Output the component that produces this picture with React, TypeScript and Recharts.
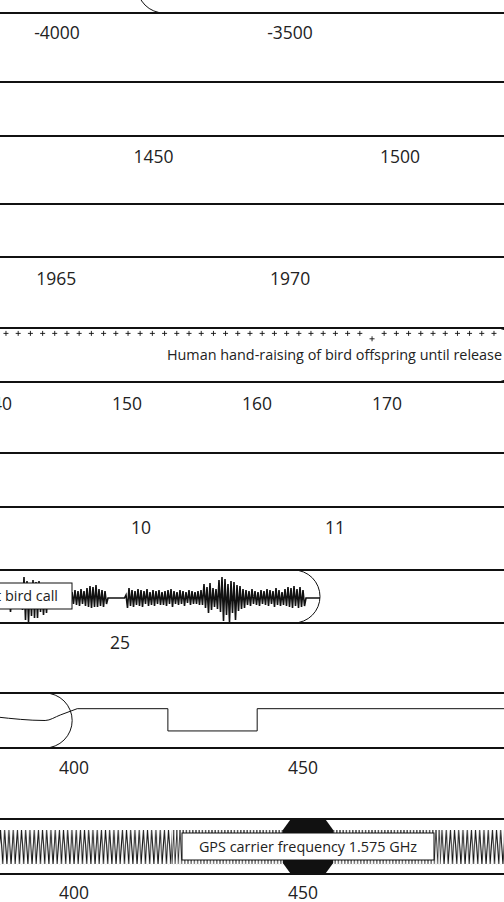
import React from 'react';
import {
  ComposedChart,
  XAxis,
  YAxis,
  Line,
  Scatter,
  ReferenceLine,
  ReferenceArea,
  ReferenceDot,
} from 'recharts';

const FONT = '"Open Sans", "Noto Sans", sans-serif';
const INK = '#111';
const TEXT = '#222';
const LABEL_SIZE = 14.4;

// ---------- Band 1: deep time (years) ----------
const deepTicks = [-4000, -3500];
const deepSpan = [-3828, -2500];

// ---------- Band 2: late middle ages ----------
const medievalTicks = [1450, 1500];

// ---------- Band 3: 20th century ----------
const modernTicks = [1965, 1970];

// ---------- Band 4: days ----------
const dayTicks = [140, 150, 160, 170];
const handT = [
  140.69, 141.63, 142.57, 143.51, 144.44, 145.38, 146.32, 147.26, 148.2, 149.14,
  150.08, 151.01, 151.95, 152.89, 153.83, 154.77, 155.71, 156.65, 157.58, 158.52,
  159.46, 160.4, 161.34, 162.28, 163.22, 164.15, 165.09, 166.03, 166.97, 167.91,
  168.85, 169.78, 170.72, 171.66, 172.6, 173.54, 174.48, 175.42, 176.35, 177.29,
  178.23,
];
const handV = [
  0.9, 0.9, 0.9, 0.9, 0.9, 0.9, 0.9, 0.9, 0.9, 0.9,
  0.9, 0.9, 0.9, 0.9, 0.9, 0.9, 0.9, 0.9, 0.9, 0.9,
  0.9, 0.9, 0.9, 0.9, 0.9, 0.9, 0.9, 0.9, 0.9, 0.9,
  0.8, 0.9, 0.9, 0.9, 0.9, 0.9, 0.9, 0.9, 0.9, 0.9,
  0.9,
];
const handSpan = [120, 180.4];
const handLabel = 'Human hand-raising of bird offspring until release';
const handLabelAt = [178.85, 0.407];

// ---------- Band 5: hours ----------
const hourTicks = [10, 11];

// ---------- Band 6: seconds (bird call) ----------
const callTicks = [25];
const callT0 = 24.7;
const callDt = 0.0075;
const callHi = [
  6, 7, 9, 10, 8, 6, 9, 12, 21, 17, 13, 18, 16, 17, 9, 8, 7, 6, 7, 6, 8, 7, 6, 8,
  6, 8, 7, 9, 7, 10, 12, 11, 13, 9, 8, 7,
  0, 0, 0, 0, 0, 0,
  3, 10, 8, 7, 9, 8, 7, 9, 6, 8, 7, 8, 6, 7, 8, 9, 7, 6, 8, 7, 6, 8, 7, 6, 7, 8,
  14, 11, 15, 10, 9, 18, 21, 19, 14, 17, 16, 13, 12, 9, 8, 7, 9, 7, 6, 8, 7, 9,
  8, 7, 10, 8, 6, 9, 11, 10, 12, 9, 11, 8,
];
const callLo = [
  -5, -6, -10, -14, -9, -8, -10, -12, -22, -24, -18, -20, -20, -14, -17, -15, -9, -7, -8, -6, -7, -8, -7, -7,
  -6, -7, -8, -6, -8, -9, -10, -9, -9, -8, -9, -6,
  0, 0, 0, 0, 0, 0,
  -10, -8, -9, -7, -8, -9, -6, -8, -7, -8, -6, -7, -7, -8, -6, -9, -6, -7, -6, -8, -5, -7, -6, -6, -7, -7,
  -10, -15, -12, -9, -11, -14, -23, -17, -24, -15, -22, -13, -11, -10, -7, -8, -6, -7, -8, -6, -7, -8,
  -6, -9, -7, -8, -7, -8, -9, -10, -8, -10, -9, -8,
];
const callTailT = [25.465, 25.5];
const callTailV = [0, 0];
const callSpan = [23, 25.5];
const callLabel = 'Great tit bird call';
const callLabelAt = [24.7075, 2];

// ---------- Band 7: milliseconds (tone) ----------
const toneTicks = [400, 450];
const leadT = [383, 393.7, 397.0, 400.7];
const leadV = [0.565, 0.5, 0.6, 0.715];
const stepT = [400.7, 420.5, 440.0, 495];
const stepV = [0.715, 0.31, 0.715, 0.715];
const toneSpan = [300, 399.6];

// ---------- Band 8: nanoseconds (GPS carrier) ----------
const carrierTicks = [400, 450];
const carrierCoarseA = [378, 421.4];
const carrierFine = [421.4, 479.9];
const carrierCoarseB = [479.9, 500];
const carrierAmp = [0.18, 0.8];
const markerSpan = [445.6, 456.6];
const gpsLabel = 'GPS carrier frequency 1.575 GHz';
const gpsLabelAt = [451.1, 0.5];

// ---------- tables built from the arrays ----------
const handRows = handT.map((t, i) => ({ t, v: handV[i] }));
const callRows = callHi
  .flatMap((hi, i) => [
    { t: callT0 + i * callDt, v: hi },
    { t: callT0 + (i + 0.5) * callDt, v: callLo[i] },
  ])
  .concat(callTailT.map((t, i) => ({ t, v: callTailV[i] })));
const leadRows = leadT.map((t, i) => ({ t, v: leadV[i] }));
const stepRows = stepT.map((t, i) => ({ t, v: stepV[i] }));

// ---------- shapes ----------
const stadium = (p: any) => {
  const { x, y, width, height } = p;
  return (
    <rect
      x={x}
      y={y}
      width={width}
      height={height}
      rx={height / 2}
      ry={height / 2}
      fill="none"
      stroke={INK}
      strokeWidth={1}
    />
  );
};

const plus = (p: any) => {
  const { cx, cy } = p;
  return (
    <g stroke={INK} strokeWidth={0.9}>
      <line x1={cx - 2.5} x2={cx + 2.5} y1={cy} y2={cy} />
      <line x1={cx} x2={cx} y1={cy - 2.5} y2={cy + 2.5} />
    </g>
  );
};

const carrier = (period: number, id: string, sw: number) => (p: any) => {
  const { x, y, width, height } = p;
  return (
    <g>
      <defs>
        <pattern id={id} x={x} y={y} width={period} height={height} patternUnits="userSpaceOnUse">
          <path
            d={`M0,${height} L${period / 2},0 L${period},${height}`}
            fill="none"
            stroke={INK}
            strokeWidth={sw}
          />
        </pattern>
      </defs>
      <rect x={x} y={y} width={width} height={height} fill={`url(#${id})`} />
    </g>
  );
};

const hexMarker = (p: any) => {
  const { x, y, width: w, height: h } = p;
  const c = 8;
  const d = 11;
  const pts = [
    [x + c, y],
    [x + w - c, y],
    [x + w, y + d],
    [x + w, y + h - d],
    [x + w - c, y + h],
    [x + c, y + h],
    [x, y + h - d],
    [x, y + d],
  ]
    .map((q) => q.join(','))
    .join(' ');
  return <polygon points={pts} fill={INK} />;
};

const boxLabel = (text: string, w: number, h: number, anchor: 'middle' | 'end') => (p: any) => {
  const { cx, cy } = p;
  const tx = anchor === 'middle' ? cx : cx + w / 2 - 14;
  return (
    <g>
      <rect x={cx - w / 2} y={cy - h / 2} width={w} height={h} fill="#fff" stroke={INK} strokeWidth={1} />
      <text x={tx} y={cy + 5} textAnchor={anchor} fontSize={LABEL_SIZE} fontFamily={FONT} fill={TEXT}>
        {text}
      </text>
    </g>
  );
};

const plainLabel = (text: string) => (p: any) => (
  <text x={p.cx} y={p.cy} textAnchor="end" fontSize={LABEL_SIZE} fontFamily={FONT} fill={TEXT}>
    {text}
  </text>
);

// ---------- band frame ----------
type BandProps = {
  top: number;
  bottom: number;
  xDomain: [number, number];
  yDomain: [number, number];
  ticks: number[];
  gap: number;
  children?: React.ReactNode;
};

const M_TOP = 2;
const AXIS_H = 40;

function Band({ top, bottom, xDomain, yDomain, ticks, gap, children }: BandProps) {
  const h = M_TOP + (bottom - top) + AXIS_H;
  const tick = (p: any) => (
    <text
      x={p.x}
      y={p.y + gap}
      textAnchor="middle"
      fontSize={17.5}
      fontFamily={FONT}
      fill={TEXT}
    >
      {p.payload.value}
    </text>
  );
  return (
    <div style={{ position: 'absolute', left: 0, top: top - M_TOP, width: 504, height: h }}>
      <ComposedChart width={504} height={h} margin={{ top: M_TOP, right: 0, bottom: 0, left: 0 }}>
        <XAxis
          type="number"
          dataKey="t"
          domain={xDomain}
          allowDataOverflow
          ticks={ticks}
          interval={0}
          axisLine={false}
          tickLine={false}
          tickSize={0}
          tickMargin={0}
          height={AXIS_H}
          tick={tick}
        />
        <YAxis hide type="number" dataKey="v" domain={yDomain} allowDataOverflow />
        {children}
        <ReferenceLine y={yDomain[1]} stroke={INK} strokeWidth={2} />
        <ReferenceLine y={yDomain[0]} stroke={INK} strokeWidth={2} />
      </ComposedChart>
    </div>
  );
}

export default function App() {
  return (
    <div
      style={{
        position: 'absolute',
        left: 0,
        top: 0,
        width: 504,
        height: 902,
        overflow: 'hidden',
        background: '#fff',
      }}
    >
      <Band top={-41} bottom={13} xDomain={[-4122.3, -3040.8]} yDomain={[0, 1]} ticks={deepTicks} gap={26}>
        <ReferenceArea x1={deepSpan[0]} x2={deepSpan[1]} y1={0} y2={1} ifOverflow="visible" shape={stadium} />
      </Band>

      <Band top={82} bottom={136} xDomain={[1418.86, 1521.1]} yDomain={[0, 1]} ticks={medievalTicks} gap={26.7} />

      <Band top={204} bottom={257} xDomain={[1963.8, 1974.57]} yDomain={[0, 1]} ticks={modernTicks} gap={27.7} />

      <Band top={328} bottom={382} xDomain={[140.23, 179.0]} yDomain={[0, 1]} ticks={dayTicks} gap={27.6}>
        <ReferenceArea x1={handSpan[0]} x2={handSpan[1]} y1={0} y2={1} ifOverflow="visible" shape={stadium} />
        <Scatter data={handRows} dataKey="v" shape={plus} isAnimationActive={false} />
        <ReferenceDot
          x={handLabelAt[0]}
          y={handLabelAt[1]}
          r={1}
          ifOverflow="visible"
          shape={plainLabel(handLabel)}
        />
      </Band>

      <Band top={453} bottom={507} xDomain={[9.273, 11.871]} yDomain={[0, 1]} ticks={hourTicks} gap={26.7} />

      <Band top={570} bottom={623} xDomain={[24.7, 25.96]} yDomain={[-25, 28]} ticks={callTicks} gap={25.7}>
        <ReferenceArea x1={callSpan[0]} x2={callSpan[1]} y1={-25} y2={28} ifOverflow="visible" shape={stadium} />
        <Line
          data={callRows}
          dataKey="v"
          type="linear"
          stroke={INK}
          strokeWidth={1.6}
          dot={false}
          activeDot={false}
          isAnimationActive={false}
        />
        <ReferenceDot
          x={callLabelAt[0]}
          y={callLabelAt[1]}
          r={1}
          ifOverflow="visible"
          zIndex={2000}
          shape={boxLabel(callLabel, 138, 26, 'end')}
        />
      </Band>

      <Band top={693} bottom={748} xDomain={[383.84, 493.9]} yDomain={[0, 1]} ticks={toneTicks} gap={26.3}>
        <ReferenceArea x1={toneSpan[0]} x2={toneSpan[1]} y1={0} y2={1} ifOverflow="visible" shape={stadium} />
        <Line
          data={leadRows}
          dataKey="v"
          type="monotone"
          stroke={INK}
          strokeWidth={1}
          dot={false}
          activeDot={false}
          isAnimationActive={false}
        />
        <Line
          data={stepRows}
          dataKey="v"
          type="stepAfter"
          stroke={INK}
          strokeWidth={1}
          dot={false}
          activeDot={false}
          isAnimationActive={false}
        />
      </Band>

      <Band top={819} bottom={874} xDomain={[383.84, 493.9]} yDomain={[0, 1]} ticks={carrierTicks} gap={25}>
        <ReferenceArea
          x1={carrierCoarseA[0]}
          x2={carrierCoarseA[1]}
          y1={carrierAmp[0]}
          y2={carrierAmp[1]}
          ifOverflow="visible"
          shape={carrier(4.2, 'carrierA', 1)}
        />
        <ReferenceArea
          x1={carrierFine[0]}
          x2={carrierFine[1]}
          y1={carrierAmp[0]}
          y2={carrierAmp[1]}
          ifOverflow="visible"
          shape={carrier(3.2, 'carrierF', 0.8)}
        />
        <ReferenceArea
          x1={carrierCoarseB[0]}
          x2={carrierCoarseB[1]}
          y1={carrierAmp[0]}
          y2={carrierAmp[1]}
          ifOverflow="visible"
          shape={carrier(4.2, 'carrierB', 1)}
        />
        <ReferenceArea
          x1={markerSpan[0]}
          x2={markerSpan[1]}
          y1={0}
          y2={1}
          ifOverflow="visible"
          shape={hexMarker}
        />
        <ReferenceDot
          x={gpsLabelAt[0]}
          y={gpsLabelAt[1]}
          r={1}
          ifOverflow="visible"
          zIndex={2000}
          shape={boxLabel(gpsLabel, 252, 27, 'middle')}
        />
      </Band>
    </div>
  );
}
